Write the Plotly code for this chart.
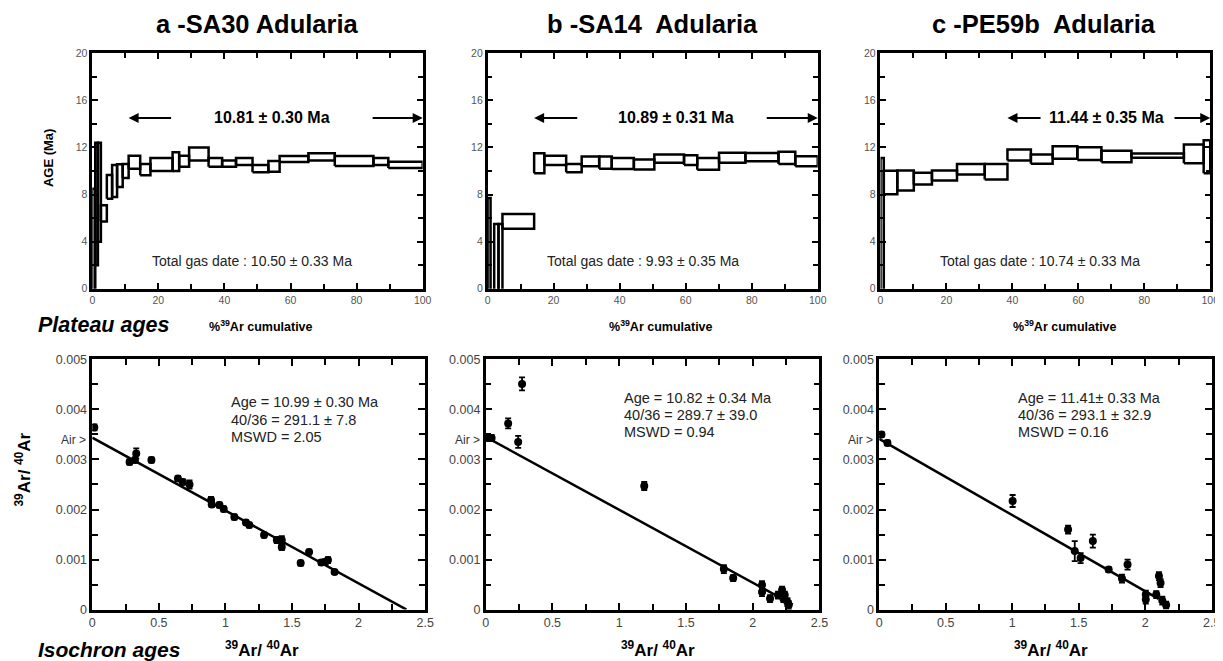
import plotly.graph_objects as go

W, H = 1223, 661
# measured mapping from figure pixels to the photographed window
KX, TX = 1.00556, 9.1
SY, TY = 0.978, 14.1
FONT = "Liberation Sans, Arial, Helvetica, sans-serif"

# ---------------- data ----------------
titles = ["a -SA30 Adularia", "b -SA14  Adularia", "c -PE59b  Adularia"]

# Plateau spectra: cumulative %39Ar step boundaries, step age (Ma) and half error (Ma)
a_cum = [0, 0.9, 1.7, 2.6, 4.4, 6.0, 7.5, 9.2, 11.0, 14.5, 17.6, 24.3, 26.3, 29.3,
         35.2, 39.3, 43.5, 48.5, 53.3, 56.7, 65.4, 73.4, 85.1, 89.6, 100]
a_age = [4.0, 7.2, 8.2, 6.4, 8.65, 9.15, 9.6, 10.0, 10.75, 10.12, 10.55, 10.8, 10.83,
         11.45, 10.73, 10.63, 10.8, 10.2, 10.39, 11.02, 11.2, 10.85, 10.8, 10.52]
a_err = [4.5, 5.2, 4.2, 0.7, 1.0, 1.35, 0.97, 0.6, 0.55, 0.48, 0.55, 0.8, 0.47,
         0.55, 0.37, 0.27, 0.3, 0.3, 0.46, 0.25, 0.3, 0.42, 0.3, 0.26]

b_cum = [0, 0.9, 2.0, 3.3, 4.5, 14.1, 17.2, 23.8, 28.5, 33.8, 37.6, 44.3, 50.5,
         59.5, 63.5, 70.1, 78.1, 88.1, 93.2, 100]
b_age = [2.85, -3.5, 1.6, 2.0, 5.72, 10.65, 10.9, 10.25, 10.82, 10.72, 10.63, 10.55,
         11.05, 10.92, 10.6, 11.12, 11.18, 11.12, 10.83]
b_err = [4.85, 2.5, 3.9, 3.5, 0.62, 0.85, 0.4, 0.35, 0.42, 0.52, 0.47, 0.42,
         0.35, 0.42, 0.5, 0.42, 0.35, 0.52, 0.43]

c_cum = [0, 1.0, 5.1, 10.1, 15.6, 23.2, 31.6, 38.5, 45.6, 52.2, 59.7, 67.0, 76.1,
         92.0, 98.0, 100]
c_age = [5.3, 9.02, 9.2, 9.35, 9.62, 10.15, 9.94, 11.36, 11.01, 11.57, 11.48, 11.23,
         11.3, 11.45, 11.2]
c_err = [5.8, 1.0, 0.85, 0.49, 0.43, 0.45, 0.66, 0.47, 0.39, 0.53, 0.54, 0.48,
         0.18, 0.8, 1.4]

plateau_labels = ["10.81 ± 0.30 Ma", "10.89 ± 0.31 Ma", "11.44 ± 0.35 Ma"]
plateau_start = [11.0, 14.1, 38.5]
plateau_end = [100, 100, 100]
total_gas = ["Total gas date : 10.50 ± 0.33 Ma",
             "Total gas date : 9.93 ± 0.35 Ma",
             "Total gas date : 10.74 ± 0.33 Ma"]

# Isochrons
ia_x = [0.015, 0.28, 0.32, 0.33, 0.444, 0.643, 0.68, 0.73, 0.892, 0.897, 0.955, 0.987,
        1.067, 1.154, 1.179, 1.29, 1.386, 1.423, 1.423, 1.565, 1.628, 1.72, 1.75, 1.77, 1.82]
ia_y = [0.00364, 0.00295, 0.00299, 0.00312, 0.00299, 0.00262, 0.00255, 0.0025, 0.00219,
        0.0021, 0.00209, 0.00201, 0.00185, 0.00174, 0.00169, 0.00149, 0.00139, 0.00139,
        0.00125, 0.00093, 0.00115, 0.00094, 0.00095, 0.00099, 0.00075]
ia_e = [0.00006, 0.00005, 0.00005, 0.0001, 0.00005, 0.00005, 0.00005, 0.00008, 0.00006,
        0.00005, 0.00005, 0.00005, 0.00005, 0.00005, 0.00005, 0.00005, 0.00006, 0.00008,
        0.00006, 0.00005, 0.00005, 0.00005, 0.00006, 0.00006, 0.00004]

ib_x = [0.02, 0.045, 0.169, 0.244, 0.273, 1.188, 1.784, 1.854, 2.07, 2.07, 2.13, 2.19,
        2.22, 2.23, 2.24, 2.26, 2.27]
ib_y = [0.00343, 0.00343, 0.00372, 0.00335, 0.00451, 0.00247, 0.00081, 0.00063, 0.00049,
        0.00035, 0.00022, 0.00029, 0.00039, 0.00022, 0.00029, 0.00015, 0.00009]
ib_e = [0.00006, 0.00006, 0.0001, 0.00012, 0.00013, 0.00008, 0.00008, 0.00006, 0.00008,
        0.00008, 0.00007, 0.00007, 0.00007, 0.00007, 0.00007, 0.00008, 0.00008]

ic_x = [0.017, 0.062, 1.003, 1.42, 1.47, 1.514, 1.606, 1.725, 1.825, 1.867, 2.004, 2.004,
        2.083, 2.103, 2.115, 2.128, 2.157]
ic_y = [0.0035, 0.00333, 0.00217, 0.0016, 0.00117, 0.00103, 0.00137, 0.0008, 0.00062,
        0.0009, 0.0003, 0.0002, 0.0003, 0.00067, 0.00053, 0.00018, 0.00009]
ic_e = [0.00005, 0.00005, 0.00012, 0.00008, 0.0002, 0.0001, 0.00013, 0.00005, 0.00008,
        0.0001, 0.00008, 0.00008, 0.00007, 0.00008, 0.00008, 0.00008, 0.00007]

iso_intercept = [0.003435, 0.003452, 0.003412]
iso_xint = [2.36, 2.37, 2.24]
iso_line_xmax = [2.36, 2.3, 2.1]
iso_text = [["Age = 10.99 ± 0.30 Ma", "40/36 = 291.1 ± 7.8", "MSWD = 2.05"],
            ["Age = 10.82 ± 0.34 Ma", "40/36 = 289.7 ± 39.0", "MSWD = 0.94"],
            ["Age = 11.41± 0.33 Ma", "40/36 = 293.1 ± 32.9", "MSWD = 0.16"]]
air_ratio = 1 / 295.5

# ---------------- figure ----------------
def px(X):
    return min(1.0, max(0.0, (X * KX - TX) / W))

def py(Y):
    return min(1.0, max(0.0, 1 - (Y / SY - TY) / H))

fig = go.Figure()

plateau_sets = [(a_cum, a_age, a_err), (b_cum, b_age, b_err), (c_cum, c_age, c_err)]
iso_sets = [(ia_x, ia_y, ia_e), (ib_x, ib_y, ib_e), (ic_x, ic_y, ic_e)]

plat_dom_x = [(90.7, 422.5), (487.7, 819.3), (882.3, 1213.5)]
plat_dom_y = (52.0, 287.3)
iso_dom_x = [(90.7, 425.0), (485.7, 821.0), (881.0, 1215.0)]
iso_dom_y = (357.9, 607.9)

axis_common = dict(
    showline=True, linewidth=2.5, linecolor="black", mirror="allticks",
    ticks="inside", ticklen=6, tickwidth=1.5, tickcolor="black",
    showgrid=False, zeroline=False, ticklabeloverflow="allow",
    tickfont=dict(family=FONT, size=10.5, color="#555"),
)

def ann(**kw):
    kw.setdefault("showarrow", False)
    kw.setdefault("xanchor", "center")
    kw.setdefault("yanchor", "middle")
    fig.add_annotation(**kw)

for i in range(3):
    cum, age, err = plateau_sets[i]
    xs, ys = [], []
    for k in range(len(age)):
        x0, x1 = cum[k], cum[k + 1]
        lo, hi = age[k] - err[k], age[k] + err[k]
        xs += [x0, x1, x1, x0, x0, None]
        ys += [lo, lo, hi, hi, lo, None]
    xa = "x" if i == 0 else f"x{i + 1}"
    ya = "y" if i == 0 else f"y{i + 1}"
    fig.add_trace(go.Scatter(x=xs, y=ys, mode="lines", xaxis=xa, yaxis=ya,
                             line=dict(color="black", width=2.5), hoverinfo="skip",
                             showlegend=False))

    # isochron
    ix, iy, ie = iso_sets[i]
    xa2 = f"x{i + 4}"
    ya2 = f"y{i + 4}"
    lx = [0, iso_line_xmax[i]]
    ly = [iso_intercept[i] * (1 - v / iso_xint[i]) for v in lx]
    fig.add_trace(go.Scatter(x=lx, y=ly, mode="lines", xaxis=xa2, yaxis=ya2,
                             line=dict(color="black", width=2.5), hoverinfo="skip",
                             showlegend=False))
    fig.add_trace(go.Scatter(x=ix, y=iy, mode="markers", xaxis=xa2, yaxis=ya2,
                             marker=dict(color="black", size=8, symbol="circle"),
                             error_y=dict(type="data", array=ie, color="black",
                                          thickness=1.8, width=3),
                             hoverinfo="skip", showlegend=False))

    # axes
    sfx = "" if i == 0 else str(i + 1)
    fig.layout[f"xaxis{sfx}"] = dict(
        axis_common, domain=[px(plat_dom_x[i][0]), px(plat_dom_x[i][1])],
        anchor=f"y{sfx}", range=[0, 100], tickvals=[0, 20, 40, 60, 80, 100],
        minor=dict(dtick=10, ticks="inside", ticklen=5, tickwidth=1.5, tickcolor="black"))
    fig.layout[f"yaxis{sfx}"] = dict(
        axis_common, domain=[py(plat_dom_y[1]), py(plat_dom_y[0])],
        anchor=f"x{sfx}", range=[0, 20], tickvals=[0, 4, 8, 12, 16, 20],
        minor=dict(dtick=2, ticks="inside", ticklen=5, tickwidth=1.5, tickcolor="black"))
    j = i + 4
    fig.layout[f"xaxis{j}"] = dict(
        axis_common, domain=[px(iso_dom_x[i][0]), px(iso_dom_x[i][1])],
        anchor=f"y{j}", range=[0, 2.5], tickvals=[0, 0.5, 1, 1.5, 2, 2.5],
        ticktext=["0", "0.5", "1", "1.5", "2", "2.5"], ticklen=7,
        tickfont=dict(family=FONT, size=12.5, color="#444"),
        minor=dict(dtick=0.25, ticks="inside", ticklen=6, tickwidth=1.5, tickcolor="black"))
    fig.layout[f"yaxis{j}"] = dict(
        axis_common, domain=[py(iso_dom_y[1]), py(iso_dom_y[0])],
        anchor=f"x{j}", range=[0, 0.005],
        tickvals=[0, 0.001, 0.002, 0.003, 0.004, 0.005],
        ticktext=["0", "0.001", "0.002", "0.003", "0.004", "0.005"], ticklen=7,
        tickfont=dict(family=FONT, size=12.5, color="#444"),
        minor=dict(dtick=0.0005, ticks="inside", ticklen=6, tickwidth=1.5, tickcolor="black"))

    # plateau annotations
    label_x = [54.5, 57.2, 68.6][i]
    ann(xref=xa, yref=ya, x=label_x, y=14.55, text=f"<b>{plateau_labels[i]}</b>",
        font=dict(family=FONT, size=16, color="black"))
    left_tail = [13.3, 13.5, 10.5][i]
    right_tail = [15.6, 15.9, 11.3][i]
    fig.add_annotation(xref=xa, yref=ya, axref=xa, ayref=ya,
                       x=plateau_start[i], y=14.5, ax=plateau_start[i] + left_tail, ay=14.5,
                       text="", showarrow=True, arrowhead=2, arrowsize=1, arrowwidth=2,
                       arrowcolor="black")
    fig.add_annotation(xref=xa, yref=ya, axref=xa, ayref=ya,
                       x=plateau_end[i], y=14.5, ax=plateau_end[i] - right_tail, ay=14.5,
                       text="", showarrow=True, arrowhead=2, arrowsize=1, arrowwidth=2,
                       arrowcolor="black")
    ann(xref=xa, yref=ya, x=[48.4, 47.1, 48.3][i], y=2.33, text=total_gas[i],
        font=dict(family=FONT, size=14, color="#222"))

    # isochron annotations (one line each)
    tx = [228.3, 622.3, 1018.3][i]
    ty0 = [400.7, 396.0, 396.0][i]
    for k, line in enumerate(iso_text[i]):
        ann(xref="paper", yref="paper", x=px(tx), y=py(ty0 + 17.3 * k), text=line,
            xanchor="left", font=dict(family=FONT, size=14.5, color="#222"))
    ann(xref=f"x{j} domain", yref=f"y{j}", x=0, y=air_ratio, text="Air >",
        xanchor="right", xshift=-4, font=dict(family=FONT, size=12, color="#333"))

    # titles
    ann(xref="paper", yref="paper", x=px([256.7, 653.3, 1046.7][i]), y=py(23),
        text=f"<b>{titles[i]}</b>", font=dict(family=FONT, size=25.5, color="black"))
    ann(xref="paper", yref="paper", x=px([260, 662, 1068][i]), y=py(325),
        text="<b>%<sup>39</sup>Ar cumulative</b>", font=dict(family=FONT, size=12.5, color="black"))
    ann(xref="paper", yref="paper", x=px([261, 659, 1054][i]), y=py(647),
        text="<b><sup>39</sup>Ar/ <sup>40</sup>Ar</b>", font=dict(family=FONT, size=17, color="black"))

ann(xref="paper", yref="paper", x=px(47), y=py(156), text="<b>AGE (Ma)</b>",
    textangle=-90, font=dict(family=FONT, size=13, color="black"))
ann(xref="paper", yref="paper", x=px(21), y=py(468),
    text="<b><sup>39</sup>Ar/ <sup>40</sup>Ar</b>", textangle=-90,
    font=dict(family=FONT, size=17, color="black"))
ann(xref="paper", yref="paper", x=px(34), y=py(324), xanchor="left",
    text="<b><i>Plateau ages</i></b>", font=dict(family=FONT, size=21.5, color="black"))
ann(xref="paper", yref="paper", x=px(34), y=py(648), xanchor="left",
    text="<b><i>Isochron ages</i></b>", font=dict(family=FONT, size=21, color="black"))

fig.update_layout(width=W, height=H, margin=dict(l=0, r=0, t=0, b=0),
                  paper_bgcolor="white", plot_bgcolor="white", showlegend=False,
                  font=dict(family=FONT))

fig.write_html("out.html")
